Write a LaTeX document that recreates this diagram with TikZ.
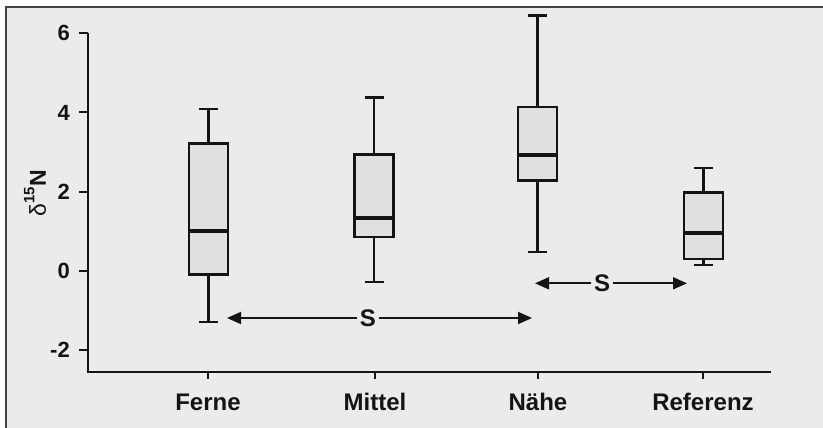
\documentclass[tikz,border=0pt]{standalone}
\usepackage{fontspec}
\setmainfont{Liberation Sans}
\usetikzlibrary{arrows.meta}
\definecolor{bg}{HTML}{EBEBEB}
\definecolor{boxfill}{HTML}{E0E0E0}
\definecolor{ink}{HTML}{141414}
\begin{document}
\begin{tikzpicture}[x=1pt,y=-1pt,
  axisline/.style={draw=ink,line width=2.5pt},
  tickline/.style={draw=ink,line width=2pt},
  ticklabel/.style={anchor=east,inner sep=0pt,font=\fontsize{22}{22}\selectfont\bfseries,text=ink},
  catlabel/.style={inner sep=0pt,font=\fontsize{24}{24}\selectfont\bfseries,text=ink},
  boxplot/.style={draw=ink,fill=boxfill,line width=2.5pt,minimum width=39pt,inner sep=0pt,anchor=north},
  medianline/.style={draw=ink,line width=3.8pt},
  whisker/.style={draw=ink,line width=2.4pt},
  sig/.style={fill=bg,inner sep=2.5pt,font=\fontsize{24}{24}\selectfont\bfseries,text=ink},
  sigarrow/.style={draw=ink,line width=1.8pt,-{Triangle[length=14pt,width=12pt]}}]
\useasboundingbox (0,0) rectangle (823,428);
% background and frame
\fill[bg] (6,7) rectangle (823,428);
\draw[draw=ink!80,line width=1.5pt] (6,428) -- (6,7) -- (823,7);
% axes
\coordinate (origin) at (88,372);
\coordinate (ytop) at (88,33);
\coordinate (xend) at (771,372);
\draw[axisline] (ytop) -- (origin) -- (xend);
% y ticks
\foreach \v/\y in {6/33,4/112.5,2/192,0/271,-2/350}{
  \draw[tickline] (79,\y) -- (88,\y);
  \node[ticklabel] (ytick\v) at (70,\y) {\v};
}
% y label
\node[rotate=90,inner sep=0pt,text=ink] (ylabel) at (35,193)
  {\fontsize{23}{23}\selectfont δ\raisebox{0.5em}{\fontsize{15}{15}\selectfont\bfseries 15}\hspace{1pt}\bfseries N};
% x ticks and labels
\foreach \x/\name/\lab in {208/ferne/Ferne,375/mittel/Mittel,538/naehe/Nähe,703/referenz/Referenz}{
  \draw[tickline] (\x,372) -- (\x,379);
  \node[catlabel] (\name Label) at (\x,402) {\lab};
}
% Ferne
\node[boxplot,minimum height=131pt] (ferneBox) at (208.5,142) {};
\draw[medianline] (ferneBox.west |- 0,231) -- (ferneBox.east |- 0,231);
\coordinate (ferneHi) at (208.5,109);
\coordinate (ferneLo) at (208.5,322);
\draw[whisker] (ferneBox.north) -- (ferneHi);
\draw[whisker] (ferneBox.south) -- (ferneLo);
\draw[whisker] ([xshift=-9.5pt]ferneHi) -- ([xshift=9.5pt]ferneHi);
\draw[whisker] ([xshift=-9.5pt]ferneLo) -- ([xshift=9.5pt]ferneLo);
% Mittel
\node[boxplot,minimum height=82.7pt] (mittelBox) at (374,153) {};
\draw[medianline] (mittelBox.west |- 0,217.7) -- (mittelBox.east |- 0,217.7);
\coordinate (mittelHi) at (374,97.7);
\coordinate (mittelLo) at (374,281.7);
\draw[whisker] (mittelBox.north) -- (mittelHi);
\draw[whisker] (mittelBox.south) -- (mittelLo);
\draw[whisker] ([xshift=-9.5pt]mittelHi) -- ([xshift=9.5pt]mittelHi);
\draw[whisker] ([xshift=-9.5pt]mittelLo) -- ([xshift=9.5pt]mittelLo);
% Naehe
\node[boxplot,minimum height=73pt] (naeheBox) at (537.5,106) {};
\draw[medianline] (naeheBox.west |- 0,155) -- (naeheBox.east |- 0,155);
\coordinate (naeheHi) at (537.5,15.7);
\coordinate (naeheLo) at (537.5,251.7);
\draw[whisker] (naeheBox.north) -- (naeheHi);
\draw[whisker] (naeheBox.south) -- (naeheLo);
\draw[whisker] ([xshift=-9.5pt]naeheHi) -- ([xshift=9.5pt]naeheHi);
\draw[whisker] ([xshift=-9.5pt]naeheLo) -- ([xshift=9.5pt]naeheLo);
% Referenz
\node[boxplot,minimum height=66.7pt] (referenzBox) at (703.5,191) {};
\draw[medianline] (referenzBox.west |- 0,233) -- (referenzBox.east |- 0,233);
\coordinate (referenzHi) at (703.5,168);
\coordinate (referenzLo) at (703.5,265);
\draw[whisker] (referenzBox.north) -- (referenzHi);
\draw[whisker] (referenzBox.south) -- (referenzLo);
\draw[whisker] ([xshift=-9.5pt]referenzHi) -- ([xshift=9.5pt]referenzHi);
\draw[whisker] ([xshift=-9.5pt]referenzLo) -- ([xshift=9.5pt]referenzLo);
% significance arrows
\node[sig] (sigOne) at (368,318) {S};
\coordinate (sigOneL) at (227,318);
\coordinate (sigOneR) at (532,318);
\draw[sigarrow] (sigOne) -- (sigOneL);
\draw[sigarrow] (sigOne) -- (sigOneR);
\node[sig] (sigTwo) at (602,283.3) {S};
\coordinate (sigTwoL) at (535,283.3);
\coordinate (sigTwoR) at (687,283.3);
\draw[sigarrow] (sigTwo) -- (sigTwoL);
\draw[sigarrow] (sigTwo) -- (sigTwoR);
\end{tikzpicture}
\end{document}
